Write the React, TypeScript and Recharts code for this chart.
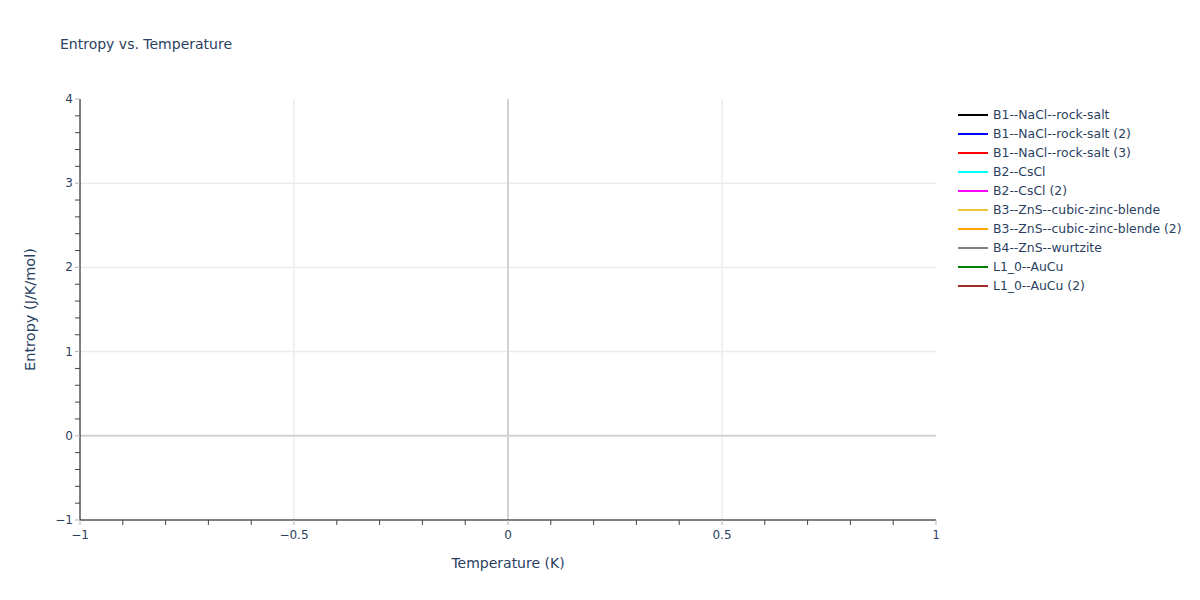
import React from 'react';
import { LineChart, Line, XAxis, YAxis, CartesianGrid, ReferenceLine } from 'recharts';

// series shown in the legend (the plot itself holds no points)
const seriesNames = [
  'B1--NaCl--rock-salt',
  'B1--NaCl--rock-salt (2)',
  'B1--NaCl--rock-salt (3)',
  'B2--CsCl',
  'B2--CsCl (2)',
  'B3--ZnS--cubic-zinc-blende',
  'B3--ZnS--cubic-zinc-blende (2)',
  'B4--ZnS--wurtzite',
  'L1_0--AuCu',
  'L1_0--AuCu (2)',
];
const seriesColors = [
  '#000000', '#0000ff', '#ff0000', '#00ffff', '#ff00ff',
  '#f0c43c', '#ffa500', '#808080', '#008000', '#a52a2a',
];
const seriesPoints: { temperature: number; entropy: number }[][] = [
  [], [], [], [], [], [], [], [], [], [],
];

const xDomain = [-1, 1];
const yDomain = [-1, 4];
const xMajor = [-1, -0.5, 0, 0.5, 1];
const yMajor = [-1, 0, 1, 2, 3, 4];
const xMinor = [
  -1, -0.9, -0.8, -0.7, -0.6, -0.5, -0.4, -0.3, -0.2, -0.1, 0,
  0.1, 0.2, 0.3, 0.4, 0.5, 0.6, 0.7, 0.8, 0.9, 1,
];
const yMinor = [
  -1, -0.8, -0.6, -0.4, -0.2, 0, 0.2, 0.4, 0.6, 0.8, 1, 1.2, 1.4, 1.6, 1.8,
  2, 2.2, 2.4, 2.6, 2.8, 3, 3.2, 3.4, 3.6, 3.8, 4,
];
const xGrid = [-0.5, 0.5];
const yGrid = [1, 2, 3];

const FONT = '"DejaVu Sans", Verdana, sans-serif';
const TEXT = '#2a3f5f';

const isMajor = (v: number, list: number[]) => list.some((m) => Math.abs(m - v) < 1e-9);
const fmt = (v: number) => (v < 0 ? '\u2212' + String(Math.abs(v)) : String(v));

const XTick = (props: any) => {
  const { x, y, payload } = props;
  const major = isMajor(payload.value, xMajor);
  return (
    <g>
      <line x1={x} y1={y} x2={x} y2={y + 5} stroke={major ? '#b4b4b4' : '#444'} strokeWidth={1} />
      {major && (
        <text x={x} y={y + 19} textAnchor="middle" fontSize={12} fill={TEXT} fontFamily={FONT}>
          {fmt(payload.value)}
        </text>
      )}
    </g>
  );
};

const YTick = (props: any) => {
  const { x, y, payload } = props;
  const major = isMajor(payload.value, yMajor);
  return (
    <g>
      <line x1={x - 5} y1={y} x2={x} y2={y} stroke={major ? '#b4b4b4' : '#444'} strokeWidth={1} />
      {major && (
        <text x={x - 7} y={y + 4} textAnchor="end" fontSize={12} fill={TEXT} fontFamily={FONT}>
          {fmt(payload.value)}
        </text>
      )}
    </g>
  );
};

export default function App() {
  return (
    <div style={{ position: 'absolute', left: 0, top: 0, width: 1200, height: 600, background: '#fff', fontFamily: FONT }}>
      <div style={{ position: 'absolute', left: 60, top: 36, fontSize: 14, color: TEXT }}>
        Entropy vs. Temperature
      </div>
      <LineChart width={1200} height={600} data={[]} margin={{ top: 99, right: 264, bottom: 20, left: 10 }}>
        <CartesianGrid horizontalValues={yGrid} verticalValues={xGrid} stroke="#ebebeb" strokeWidth={1.5} />
        <ReferenceLine x={0} stroke="#d2d2d2" strokeWidth={2} />
        <ReferenceLine y={0} stroke="#d2d2d2" strokeWidth={2} />
        <XAxis
          type="number"
          dataKey="temperature"
          domain={xDomain}
          ticks={xMinor}
          interval={0}
          allowDataOverflow
          height={60}
          stroke="#000"
          tickLine={false}
          tickSize={0}
          tickMargin={0}
          tick={<XTick />}
          label={{
            content: ({ viewBox }: any) => (
              <text x={viewBox.x + viewBox.width / 2} y={viewBox.y + 48} textAnchor="middle" fontSize={14} fill={TEXT} fontFamily={FONT}>
                Temperature (K)
              </text>
            ),
          }}
        />
        <YAxis
          type="number"
          domain={yDomain}
          ticks={yMinor}
          interval={0}
          allowDataOverflow
          width={70}
          stroke="#000"
          tickLine={false}
          tickSize={0}
          tickMargin={0}
          tick={<YTick />}
          label={{
            content: ({ viewBox }: any) => {
              const cy = viewBox.y + viewBox.height / 2;
              return (
                <text x={30} y={cy} transform={`rotate(-90 30 ${cy})`} textAnchor="middle" dominantBaseline="central" fontSize={14.5} fill={TEXT} fontFamily={FONT}>
                  Entropy (J/K/mol)
                </text>
              );
            },
          }}
        />
        {seriesNames.map((name, i) => (
          <Line
            key={name}
            name={name}
            data={seriesPoints[i]}
            dataKey="entropy"
            stroke={seriesColors[i]}
            strokeWidth={2}
            dot={false}
            isAnimationActive={false}
          />
        ))}
      </LineChart>
      <div style={{ position: 'absolute', left: 958, top: 105 }}>
        {seriesNames.map((name, i) => (
          <div key={name} style={{ display: 'flex', alignItems: 'center', height: 19, fontSize: 12.4, color: TEXT, whiteSpace: 'nowrap' }}>
            <span style={{ display: 'inline-block', width: 30, height: 2, background: seriesColors[i], marginRight: 5 }} />
            {name}
          </div>
        ))}
      </div>
    </div>
  );
}
